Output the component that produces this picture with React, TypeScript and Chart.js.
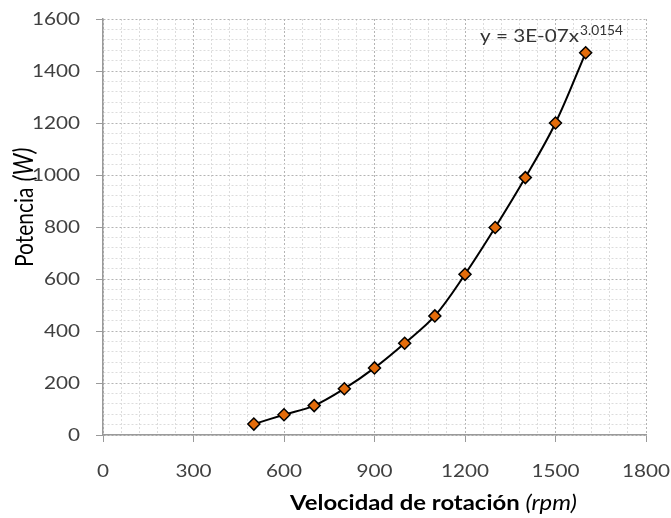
import React, { useEffect, useRef } from "react";
import { Chart, registerables } from "chart.js";

Chart.register(...registerables);

// Data
const rpm = [500, 600, 700, 800, 900, 1000, 1100, 1200, 1300, 1400, 1500, 1600];
const potencia = [42, 78, 113, 178, 258, 353, 458, 618, 798, 990, 1200, 1470];

const xMajorStep = 300;
const xMinorStep = 60;
const yMajorStep = 200;
const yMinorStep = 40;
const xMax = 1800;
const yMax = 1600;

const yTitleMain = "Potencia";
const yTitleUnit = "(W)";
const xTitleMain = "Velocidad de rotación ";
const xTitleUnit = "(rpm)";
const trendText = "y = 3E-07x";
const trendExp = "3.0154";

const FONT = 'Lato, "Open Sans", sans-serif';
const STRETCH = 1.15;

function fitText(ctx: CanvasRenderingContext2D, text: string, font: string, x: number, y: number, targetW: number) {
  ctx.save();
  ctx.font = font;
  const w = ctx.measureText(text).width;
  ctx.translate(x, y);
  ctx.scale(targetW / w, 1);
  ctx.textAlign = "left";
  ctx.fillText(text, 0, 0);
  ctx.restore();
}

const textPlugin = {
  id: "customText",
  afterDraw(chart: any) {
    const ctx: CanvasRenderingContext2D = chart.ctx;
    const xs = chart.scales.x;
    const ys = chart.scales.y;

    // Tick labels
    ctx.save();
    ctx.fillStyle = "#404040";
    ctx.font = `18px ${FONT}`;
    ctx.textBaseline = "middle";
    xs.ticks.forEach((t: any) => {
      if (t.value % xMajorStep !== 0) return;
      const px = xs.getPixelForValue(t.value);
      ctx.save();
      ctx.translate(px, 471.5);
      ctx.scale(STRETCH, 1);
      ctx.textAlign = "center";
      ctx.fillText(String(t.value), 0, 0);
      ctx.restore();
    });
    ys.ticks.forEach((t: any) => {
      if (t.value % yMajorStep !== 0) return;
      const py = ys.getPixelForValue(t.value);
      ctx.save();
      ctx.translate(80, py);
      ctx.scale(STRETCH, 1);
      ctx.textAlign = "right";
      ctx.fillText(String(t.value), 0, 0);
      ctx.restore();
    });
    ctx.restore();

    // Y title (rotated)
    ctx.save();
    ctx.fillStyle = "#000";
    ctx.textBaseline = "alphabetic";
    ctx.textAlign = "left";
    ctx.translate(32.5, 267);
    ctx.scale(STRETCH, 1);
    ctx.rotate(-Math.PI / 2);
    ctx.font = `21px ${FONT}`;
    const w1 = ctx.measureText(yTitleMain).width;
    ctx.fillText(yTitleMain, 0, 0);
    ctx.font = `italic 23px ${FONT}`;
    ctx.fillText(yTitleUnit, w1 + 6, 0);
    ctx.restore();

    // X title
    ctx.save();
    ctx.fillStyle = "#000";
    ctx.textBaseline = "alphabetic";
    const f1 = `bold 21px ${FONT}`;
    const f2 = `italic 21px ${FONT}`;
    ctx.font = f1;
    const a1 = ctx.measureText(xTitleMain).width;
    ctx.font = f2;
    const a2 = ctx.measureText(xTitleUnit).width;
    const sx = 287 / (a1 + a2);
    ctx.translate(290, 510);
    ctx.scale(sx, 1);
    ctx.textAlign = "left";
    ctx.font = f1;
    ctx.fillText(xTitleMain, 0, 0);
    ctx.font = f2;
    ctx.fillText(xTitleUnit, a1, 0);
    ctx.restore();

    // Trendline equation
    ctx.save();
    ctx.fillStyle = "#333";
    ctx.textBaseline = "alphabetic";
    fitText(ctx, trendText, `17px ${FONT}`, 480, 41.7, 99);
    fitText(ctx, trendExp, `14px ${FONT}`, 580, 35, 43);
    ctx.restore();
  },
};

export default function App() {
  const ref = useRef<HTMLCanvasElement>(null);
  useEffect(() => {
    document.body.style.margin = "0";
    const chart = new Chart(ref.current!, {
      type: "line",
      data: {
        datasets: [
          {
            data: rpm.map((x, i) => ({ x, y: potencia[i] })),
            borderColor: "#000",
            borderWidth: 2,
            tension: 0.35,
            pointStyle: "rectRot",
            pointRadius: 6,
            pointBackgroundColor: "#E46C0A",
            pointBorderColor: "#000",
            pointBorderWidth: 1.5,
            fill: false,
          },
        ],
      },
      options: {
        responsive: false,
        animation: false,
        layout: { padding: { top: 19, right: 25, left: 0, bottom: 0 } },
        plugins: { legend: { display: false }, tooltip: { enabled: false } },
        scales: {
          x: {
            type: "linear",
            min: 0,
            max: xMax,
            ticks: { stepSize: xMinorStep, autoSkip: false, display: false },
            grid: {
              color: (c: any) => (c.tick && c.tick.value % xMajorStep === 0 ? "#b4b4b4" : "#dcdcdc"),
              tickColor: (c: any) => (c.tick && c.tick.value % xMajorStep === 0 ? "#9a9a9a" : "rgba(0,0,0,0)"),
              tickLength: 7,
              lineWidth: 1,
            },
            border: { color: "#9a9a9a", width: 1.5, dash: [2, 2] },
            afterFit: (s: any) => {
              s.height = 83;
              s.paddingLeft = 0;
              s.paddingRight = 0;
            },
          },
          y: {
            type: "linear",
            min: 0,
            max: yMax,
            ticks: { stepSize: yMinorStep, autoSkip: false, display: false },
            grid: {
              color: (c: any) => (c.tick && c.tick.value % yMajorStep === 0 ? "#b4b4b4" : "#dcdcdc"),
              tickColor: (c: any) => (c.tick && c.tick.value % yMajorStep === 0 ? "#9a9a9a" : "rgba(0,0,0,0)"),
              tickLength: 7,
              lineWidth: 1,
            },
            border: { color: "#9a9a9a", width: 1.5, dash: [2, 2] },
            afterFit: (s: any) => {
              s.width = 103;
              s.paddingTop = 0;
              s.paddingBottom = 0;
            },
          },
        },
      },
      plugins: [textPlugin],
    } as any);
    return () => chart.destroy();
  }, []);
  return <canvas ref={ref} width={671} height={518} style={{ display: "block" }} />;
}
